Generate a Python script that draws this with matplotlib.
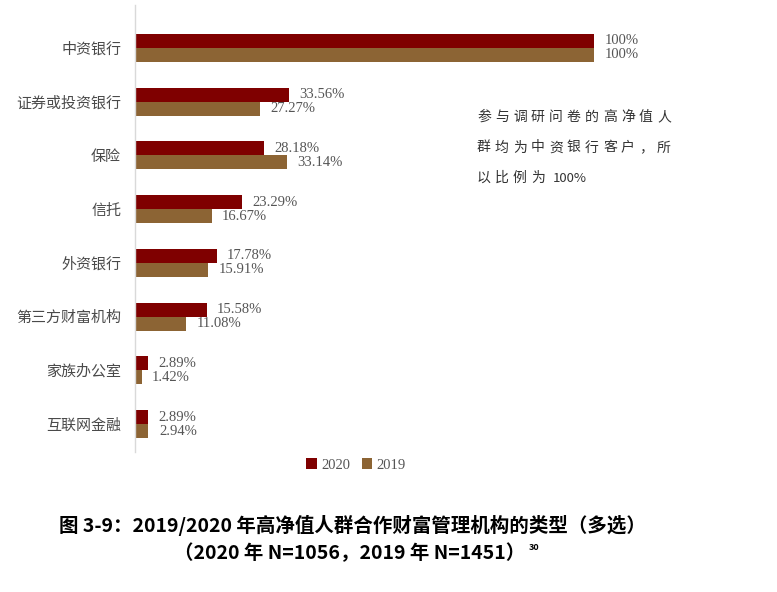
import matplotlib.pyplot as plt
import numpy as np

plt.rcParams['font.family'] = ['Noto Sans CJK SC', 'DejaVu Sans']

# data
categories = ['中资银行', '证券或投资银行', '保险', '信托', '外资银行',
              '第三方财富机构', '家族办公室', '互联网金融']
values_2020 = [100, 33.56, 28.18, 23.29, 17.78, 15.58, 2.89, 2.89]
values_2019 = [100, 27.27, 33.14, 16.67, 15.91, 11.08, 1.42, 2.94]
series_names = ['2020', '2019']

note_lines = ['参与调研问卷的高净值人', '群均为中资银行客户，所', '以比例为']
note_tail = '100%'
title_line1 = '图 3-9：2019/2020 年高净值人群合作财富管理机构的类型（多选）'
title_line2 = '（2020 年 N=1056，2019 年 N=1451）'
footnote = '30'

red = '#7f0000'
brown = '#8c6434'
serif = ['Liberation Serif', 'DejaVu Serif']

W, H = 777, 592
fig = plt.figure(figsize=(W / 100, H / 100), dpi=100)
ax = fig.add_axes([135 / W, (H - 452) / H, (594 - 135) / W, 447 / H])

y = np.arange(len(categories))
bh = 0.26
ax.barh(y - bh / 2, values_2020, height=bh, color=red, label=series_names[0])
ax.barh(y + bh / 2, values_2019, height=bh, color=brown, label=series_names[1])

ax.set_xlim(0, 100)
ax.set_ylim(7.52, -0.8)

for yi, v in zip(y, values_2020):
    txt = '100%' if v == 100 else '%.2f%%' % v
    ax.annotate(txt, (v, yi - bh / 2), xytext=(7.5, 0), textcoords='offset points',
                va='center', ha='left', fontsize=10.5, color='#555555', family=serif)
for yi, v in zip(y, values_2019):
    txt = '100%' if v == 100 else '%.2f%%' % v
    ax.annotate(txt, (v, yi + bh / 2), xytext=(7.5, 0), textcoords='offset points',
                va='center', ha='left', fontsize=10.5, color='#555555', family=serif)

ax.set_yticks(y)
ax.set_yticklabels(categories, fontsize=10.8, color='#4a4a4a')
ax.tick_params(axis='y', length=0, pad=10)
ax.set_xticks([])
for s in ['top', 'right', 'bottom']:
    ax.spines[s].set_visible(False)
ax.spines['left'].set_color('#d9d9d9')
ax.spines['left'].set_linewidth(1)

# note with wide letter spacing
for i, line in enumerate(note_lines):
    xpos = 477
    for ch in line:
        fig.text(xpos / W, 1 - (117 + i * 30.5) / H, ch, fontsize=10,
                 color='#333333', va='center', ha='left')
        xpos += 18
fig.text(553 / W, 1 - (117 + 2 * 30.5) / H, note_tail, fontsize=9.5,
         color='#333333', va='center', ha='left')

# legend
leg = fig.legend(loc='center', bbox_to_anchor=(356 / W, 1 - 465 / H), ncol=2,
                 frameon=False, handlelength=0.7, handleheight=0.7,
                 handletextpad=0.3, columnspacing=0.8,
                 prop={'family': serif, 'size': 10.5})
for t in leg.get_texts():
    t.set_color('#555555')

fig.text(352 / W, 1 - 525 / H, title_line1, ha='center', va='center',
         fontsize=14, fontweight='bold', color='black')
t2 = fig.text(350 / W, 1 - 553 / H, title_line2, ha='center', va='center',
              fontsize=14, fontweight='bold', color='black')

fig.canvas.draw()
bb = t2.get_window_extent(fig.canvas.get_renderer())
fig.text((bb.x1 + 3) / W, 1 - 547 / H, footnote, ha='left', va='center',
         fontsize=6.5, fontweight='bold', color='black')

fig.savefig('out.png', dpi=100, facecolor='white')
